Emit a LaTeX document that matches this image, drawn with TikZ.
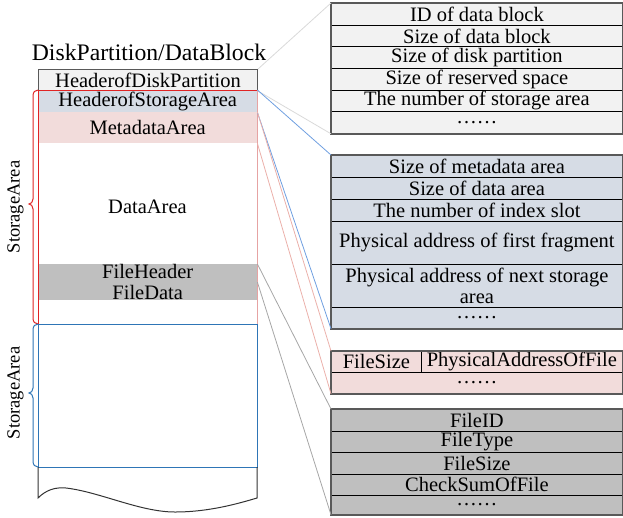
\documentclass[tikz,border=0pt]{standalone}
\usepackage{fontspec}
\setmainfont{Liberation Serif}
\usetikzlibrary{positioning}
\definecolor{hdrgray}{HTML}{F2F2F2}
\definecolor{sablue}{HTML}{D6DCE5}
\definecolor{mdpink}{HTML}{F2DCDB}
\definecolor{filegray}{HTML}{BFBFBF}
\definecolor{frred}{HTML}{E02424}
\definecolor{frpink}{HTML}{E6A3A3}
\definecolor{frblue}{HTML}{2E75B6}
\definecolor{lnblue}{HTML}{6F9FE0}
\definecolor{lnpink}{HTML}{EBB0AA}
\definecolor{lngray}{HTML}{A6A6A6}
\definecolor{lnlight}{HTML}{D9D9D9}
\definecolor{tabedge}{HTML}{595959}

\begin{document}
\begin{tikzpicture}[x=1pt, y=-1pt,
  every node/.style={font=\fontsize{20.5}{21.5}\selectfont, inner sep=0pt},
  lrow/.style={anchor=north west, minimum width=219pt, minimum height=#1},
  trow/.style={anchor=north west, minimum width=291pt, minimum height=#1, draw=black, line width=0.8pt, align=center},
  tcell/.style={anchor=north west, minimum width=#1, minimum height=21pt, draw=black, line width=0.8pt, fill=mdpink},
  frame/.style={line width=1pt},
  link/.style={line width=0.8pt}]
\useasboundingbox (0,0) rectangle (623,517);

\node[font=\fontsize{23.7}{26}\selectfont] (ttl) at (149,52) {DiskPartition/DataBlock};
\node[lrow=21pt, fill=hdrgray, draw=tabedge, line width=1pt] (hdp) at (38,69) {HeaderofDiskPartition};
\node[lrow=22pt, fill=sablue] (hsa) at (38,90) {HeaderofStorageArea};
\node[lrow=31pt, fill=mdpink] (mda) at (38,112) {MetadataArea};
\node (dta) at (147.5,207) {DataArea};
\node[lrow=34pt, fill=filegray, align=center] (fhd) at (38,264) {FileHeader\\FileData};

\draw[frame, frred] (38,90) rectangle (257,324);
\draw[frame, frpink] (257,90) -- (257,324);
\draw[frame, frblue] (38,324) rectangle (257,467);
\draw[frame, black!80] (38,467) -- (38,498) .. controls (46,490) and (55,487) .. (66,488)
  .. controls (100,492) and (140,512) .. (175,512) .. controls (210,512) and (240,503) .. (257,498) -- (257,467);

% braces
\draw[frame, frred] (38,90) .. controls (35,90) and (33,92) .. (33,96) -- (33,199)
  .. controls (33,202) and (31,204) .. (29,204) .. controls (31,204) and (33,206) .. (33,209)
  -- (33,318) .. controls (33,322) and (35,324) .. (38,324);
\draw[frame, frblue] (38,324) .. controls (35,324) and (33,326) .. (33,330) -- (33,388)
  .. controls (33,391) and (31,393) .. (29,393) .. controls (31,393) and (33,395) .. (33,398)
  -- (33,461) .. controls (33,465) and (35,467) .. (38,467);
\node[rotate=90, font=\fontsize{18.5}{20}\selectfont] (sa1) at (15.5,207) {StorageArea};
\node[rotate=90, font=\fontsize{18.5}{20}\selectfont] (sa2) at (15.5,393) {StorageArea};

\node[trow=21.7pt, fill=hdrgray] (pd1) at (331,3) {ID of data block};
\node[trow=21.7pt, fill=hdrgray] (pd2) at (331,24.7) {Size of data block};
\node[trow=21.7pt, fill=hdrgray] (pd3) at (331,46.3) {Size of disk partition};
\node[trow=21.7pt, fill=hdrgray] (pd4) at (331,68) {Size of reserved space};
\node[trow=21.7pt, fill=hdrgray] (pd5) at (331,89.7) {The number of storage area};
\node[trow=21.7pt, fill=hdrgray] (pd6) at (331,111.3) {……};
\draw[tabedge, line width=1.5pt] (pd1.north west) rectangle (pd6.south east);

\node[trow=22pt, fill=sablue] (ha1) at (331,155) {Size of metadata area};
\node[trow=22pt, fill=sablue] (ha2) at (331,177) {Size of data area};
\node[trow=22pt, fill=sablue] (ha3) at (331,199) {The number of index slot};
\node[trow=43pt, fill=sablue] (ha4) at (331,221) {Physical address of first fragment};
\node[trow=43pt, fill=sablue] (ha5) at (331,264) {Physical address of next storage\\area};
\node[trow=21pt, fill=sablue] (ha6) at (331,307) {……};
\draw[tabedge, line width=1.5pt] (ha1.north west) rectangle (ha6.south east);

\node[tcell=90pt] (md1) at (331,351) {FileSize};
\node[tcell=201pt] (md2) at (421,351) {PhysicalAddressOfFile};
\node[trow=21pt, fill=mdpink] (md3) at (331,372) {……};
\draw[tabedge, line width=1.5pt] (md1.north west) rectangle (md3.south east);

\node[trow=22pt, fill=filegray] (fh1) at (331,409) {FileID};
\node[trow=21pt, fill=filegray] (fh2) at (331,431) {FileType};
\node[trow=22pt, fill=filegray] (fh3) at (331,452) {FileSize};
\node[trow=20.5pt, fill=filegray] (fh4) at (331,474) {CheckSumOfFile};
\node[trow=19.5pt, fill=filegray] (fh5) at (331,494.5) {……};
\draw[tabedge, line width=1.5pt] (fh1.north west) rectangle (fh5.south east);

\draw[link, lnlight] (hdp.north east) -- (pd1.north west);
\draw[link, lnlight] (hdp.south east) -- (pd6.south west);
\draw[link, lnblue] (hsa.north east) -- (ha1.north west);
\draw[link, lnblue] (hsa.south east) -- (ha6.south west);
\draw[link, lnpink] (mda.north east) -- (md1.north west);
\draw[link, lnpink] (mda.south east) -- (md3.south west);
\draw[link, lngray] (fhd.north east) -- (fh1.north west);
\draw[link, lngray] (fhd.east) -- (fh5.south west);
\end{tikzpicture}
\end{document}
